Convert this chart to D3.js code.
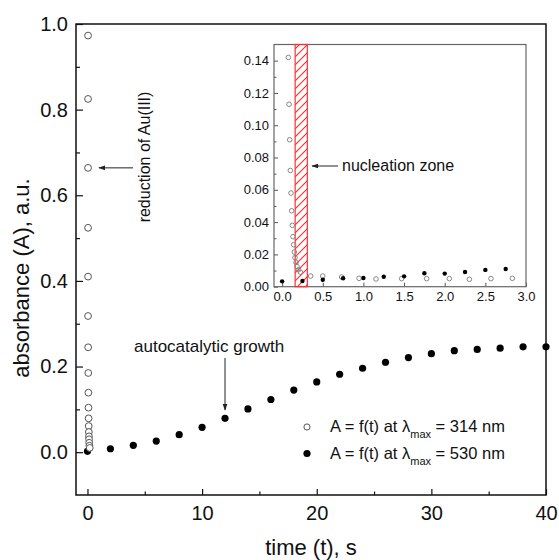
<!DOCTYPE html>
<html><head><meta charset="utf-8">
<script src="https://cdn.jsdelivr.net/npm/d3@7"></script>
<style>
html,body{margin:0;padding:0;background:#fff;}
svg text{font-family:"Liberation Sans",Arial,sans-serif;fill:#111;}
</style></head>
<body><svg id="c" width="559" height="560"></svg>
<script>
// ---- data ----
const growthTime = [0,2,4,6,8,10,12,14,16,18,20,22,24,26,28,30,32,34,36,38,40];
const growthAbs  = [0.002,0.008,0.016,0.026,0.041,0.058,0.079,0.101,0.123,0.145,0.164,0.182,0.196,0.210,0.221,0.230,0.237,0.240,0.243,0.246,0.246];

const reductionTime = [0.05,0.05,0.05,0.05,0.05,0.05,0.06,0.07,0.08,0.09,0.10,0.11,0.12,0.13,0.14,0.15,0.17,0.20];
const reductionAbs  = [0.973,0.825,0.664,0.524,0.410,0.318,0.245,0.185,0.139,0.104,0.079,0.061,0.047,0.037,0.030,0.022,0.015,0.010];

const insetOpenTime = [0.076,0.085,0.093,0.101,0.109,0.117,0.125,0.134,0.142,0.150,0.158,0.171,0.183,0.200,0.225,0.351,0.499,0.732,0.946,1.155,1.470,1.778,2.057,2.303,2.569,2.832];
const insetOpenAbs  = [0.142,0.113,0.091,0.072,0.058,0.047,0.038,0.031,0.026,0.0215,0.018,0.015,0.0125,0.0105,0.009,0.0066,0.0066,0.006,0.0052,0.0048,0.005,0.005,0.005,0.0046,0.005,0.0052];

const insetFilledTime = [0,0.25,0.5,0.75,1.0,1.25,1.5,1.75,2.0,2.25,2.5,2.75];
const insetFilledAbs  = [0.0033,0.0035,0.0043,0.0052,0.0054,0.0062,0.0064,0.0083,0.0081,0.0091,0.0104,0.011];

const nucleationZone = [0.16,0.31];

const mainXTicks = [0,10,20,30,40];
const mainXMinor = [5,15,25,35];
const mainYTicks = [0,0.2,0.4,0.6,0.8,1.0];
const mainYMinor = [0.1,0.3,0.5,0.7,0.9];
const insetXTicks = [0,0.5,1.0,1.5,2.0,2.5,3.0];
const insetYTicks = [0,0.02,0.04,0.06,0.08,0.10,0.12,0.14];
const insetYMinor = [0.01,0.03,0.05,0.07,0.09,0.11,0.13];

const legendLabels = ["314 nm","530 nm"];

// ---- layout ----
const svg = d3.select("#c");
const M = {l:76, r:546, t:24, b:495};
const x = d3.scaleLinear().domain([-1,40]).range([M.l,M.r]);
const y = d3.scaleLinear().domain([-0.1,1.0]).range([M.b,M.t]);

// defs: arrow + hatch
const defs = svg.append("defs");
defs.append("marker").attr("id","arr").attr("viewBox","0 0 10 10").attr("refX",9).attr("refY",5)
  .attr("markerWidth",7).attr("markerHeight",7).attr("orient","auto-start-reverse")
  .append("path").attr("d","M0,1.5L10,5L0,8.5Z").attr("fill","#222");
const pat = defs.append("pattern").attr("id","hatch").attr("patternUnits","userSpaceOnUse")
  .attr("width",8).attr("height",8);
pat.append("path").attr("d","M-2,10L10,-2M-2,2L2,-2M6,10L10,6").attr("stroke","#ff2a2a").attr("stroke-width",1.1);

// main axes
function axisStyle(g){ g.select(".domain").remove(); g.selectAll("line").attr("stroke","#111").attr("stroke-width",1.2); }
svg.append("g").attr("transform",`translate(${M.l},0)`)
  .call(d3.axisLeft(y).tickValues(mainYTicks).tickFormat(d3.format(".1f")).tickSizeInner(-7).tickSizeOuter(0).tickPadding(8))
  .call(axisStyle).selectAll("text").attr("font-size",20).attr("fill","#111").style("font-family","'Liberation Sans',Arial");
svg.append("g").attr("transform",`translate(${M.l},0)`)
  .call(d3.axisLeft(y).tickValues(mainYMinor).tickFormat("").tickSizeInner(-4).tickSizeOuter(0)).call(axisStyle);
svg.append("g").attr("transform",`translate(0,${M.b})`)
  .call(d3.axisBottom(x).tickValues(mainXTicks).tickFormat(d3.format("d")).tickSizeInner(-6).tickSizeOuter(0).tickPadding(11))
  .call(axisStyle).selectAll("text").attr("font-size",20).attr("fill","#111").style("font-family","'Liberation Sans',Arial");
svg.append("g").attr("transform",`translate(0,${M.b})`)
  .call(d3.axisBottom(x).tickValues(mainXMinor).tickFormat("").tickSizeInner(-3.5).tickSizeOuter(0)).call(axisStyle);
svg.append("rect").attr("x",M.l).attr("y",M.t).attr("width",M.r-M.l).attr("height",M.b-M.t)
  .attr("fill","none").attr("stroke","#111").attr("stroke-width",1.5);

svg.append("text").attr("x",(M.l+M.r)/2).attr("y",555).attr("text-anchor","middle").attr("font-size",22).text("time (t), s");
svg.append("text").attr("transform","translate(29,278) rotate(-90)").attr("text-anchor","middle").attr("font-size",22).text("absorbance (A), a.u.");

// main data
svg.append("g").selectAll("circle").data(growthTime).join("circle")
  .attr("cx",(d)=>x(d)).attr("cy",(d,i)=>y(growthAbs[i])).attr("r",3.6).attr("fill","#000");
svg.append("g").selectAll("circle").data(reductionTime).join("circle")
  .attr("cx",(d)=>x(d)).attr("cy",(d,i)=>y(reductionAbs[i])).attr("r",3.4).attr("fill","#fff")
  .attr("stroke","#555").attr("stroke-width",1);

// annotations main
svg.append("text").attr("transform","translate(150,157) rotate(-90)").attr("text-anchor","middle").attr("font-size",16).text("reduction of Au(III)");
svg.append("line").attr("x1",133).attr("y1",y(0.664)).attr("x2",99).attr("y2",y(0.664))
  .attr("stroke","#222").attr("stroke-width",1).attr("marker-end","url(#arr)");
svg.append("text").attr("x",134).attr("y",352).attr("font-size",17).text("autocatalytic growth");
svg.append("line").attr("x1",x(12)).attr("y1",358).attr("x2",x(12)).attr("y2",410)
  .attr("stroke","#222").attr("stroke-width",1).attr("marker-end","url(#arr)");

// legend
const lg = svg.append("g");
[0,1].forEach(i=>{
  const cy = 427 + i*26.5;
  const c = lg.append("circle").attr("cx",307).attr("cy",cy).attr("r",i?3.6:3.1);
  if(i) c.attr("fill","#000"); else c.attr("fill","#fff").attr("stroke","#555").attr("stroke-width",1);
  const t = lg.append("text").attr("x",330).attr("y",cy+5).attr("font-size",16.5);
  t.append("tspan").text("A = f(t) at λ");
  t.append("tspan").attr("font-size",11).attr("dy",6).text("max");
  t.append("tspan").attr("dy",-6).text(" = "+legendLabels[i]);
});

// ---- inset ----
const I = {l:274, r:526, t:44.5, b:286.7};
const xi = d3.scaleLinear().domain([-0.1,3.0]).range([I.l,I.r]);
const yi = d3.scaleLinear().domain([0,0.15]).range([I.b,I.t]);
function axisStyleI(g){ g.select(".domain").remove(); g.selectAll("line").attr("stroke","#555").attr("stroke-width",1); }
svg.append("g").attr("transform",`translate(${I.l},0)`)
  .call(d3.axisLeft(yi).tickValues(insetYTicks).tickFormat(d3.format(".2f")).tickSizeInner(-4).tickSizeOuter(0).tickPadding(5))
  .call(axisStyleI).selectAll("text").attr("font-size",13).attr("fill","#111").style("font-family","'Liberation Sans',Arial");
svg.append("g").attr("transform",`translate(${I.l},0)`)
  .call(d3.axisLeft(yi).tickValues(insetYMinor).tickFormat("").tickSizeInner(-2.5).tickSizeOuter(0)).call(axisStyleI);
svg.append("g").attr("transform",`translate(0,${I.b})`)
  .call(d3.axisBottom(xi).tickValues(insetXTicks).tickFormat(d3.format(".1f")).tickSizeInner(-4).tickSizeOuter(0).tickPadding(5))
  .call(axisStyleI).selectAll("text").attr("font-size",13).attr("fill","#111").style("font-family","'Liberation Sans',Arial");
svg.append("rect").attr("x",I.l).attr("y",I.t).attr("width",I.r-I.l).attr("height",I.b-I.t)
  .attr("fill","none").attr("stroke","#666").attr("stroke-width",1.2);

svg.append("rect").attr("x",xi(nucleationZone[0])).attr("y",I.t)
  .attr("width",xi(nucleationZone[1])-xi(nucleationZone[0])).attr("height",I.b-I.t)
  .attr("fill","url(#hatch)").attr("stroke","#ff3030").attr("stroke-width",1.2);

svg.append("g").selectAll("circle").data(insetOpenTime).join("circle")
  .attr("cx",(d)=>xi(d)).attr("cy",(d,i)=>yi(insetOpenAbs[i])).attr("r",2.3).attr("fill","none")
  .attr("stroke","#888").attr("stroke-width",1);
svg.append("g").selectAll("circle").data(insetFilledTime).join("circle")
  .attr("cx",(d)=>xi(d)).attr("cy",(d,i)=>yi(insetFilledAbs[i])).attr("r",2.2).attr("fill","#000");

svg.append("text").attr("x",342).attr("y",171).attr("font-size",16).text("nucleation zone");
svg.append("line").attr("x1",338).attr("y1",166).attr("x2",312).attr("y2",166)
  .attr("stroke","#222").attr("stroke-width",1).attr("marker-end","url(#arr)");
</script></body></html>
